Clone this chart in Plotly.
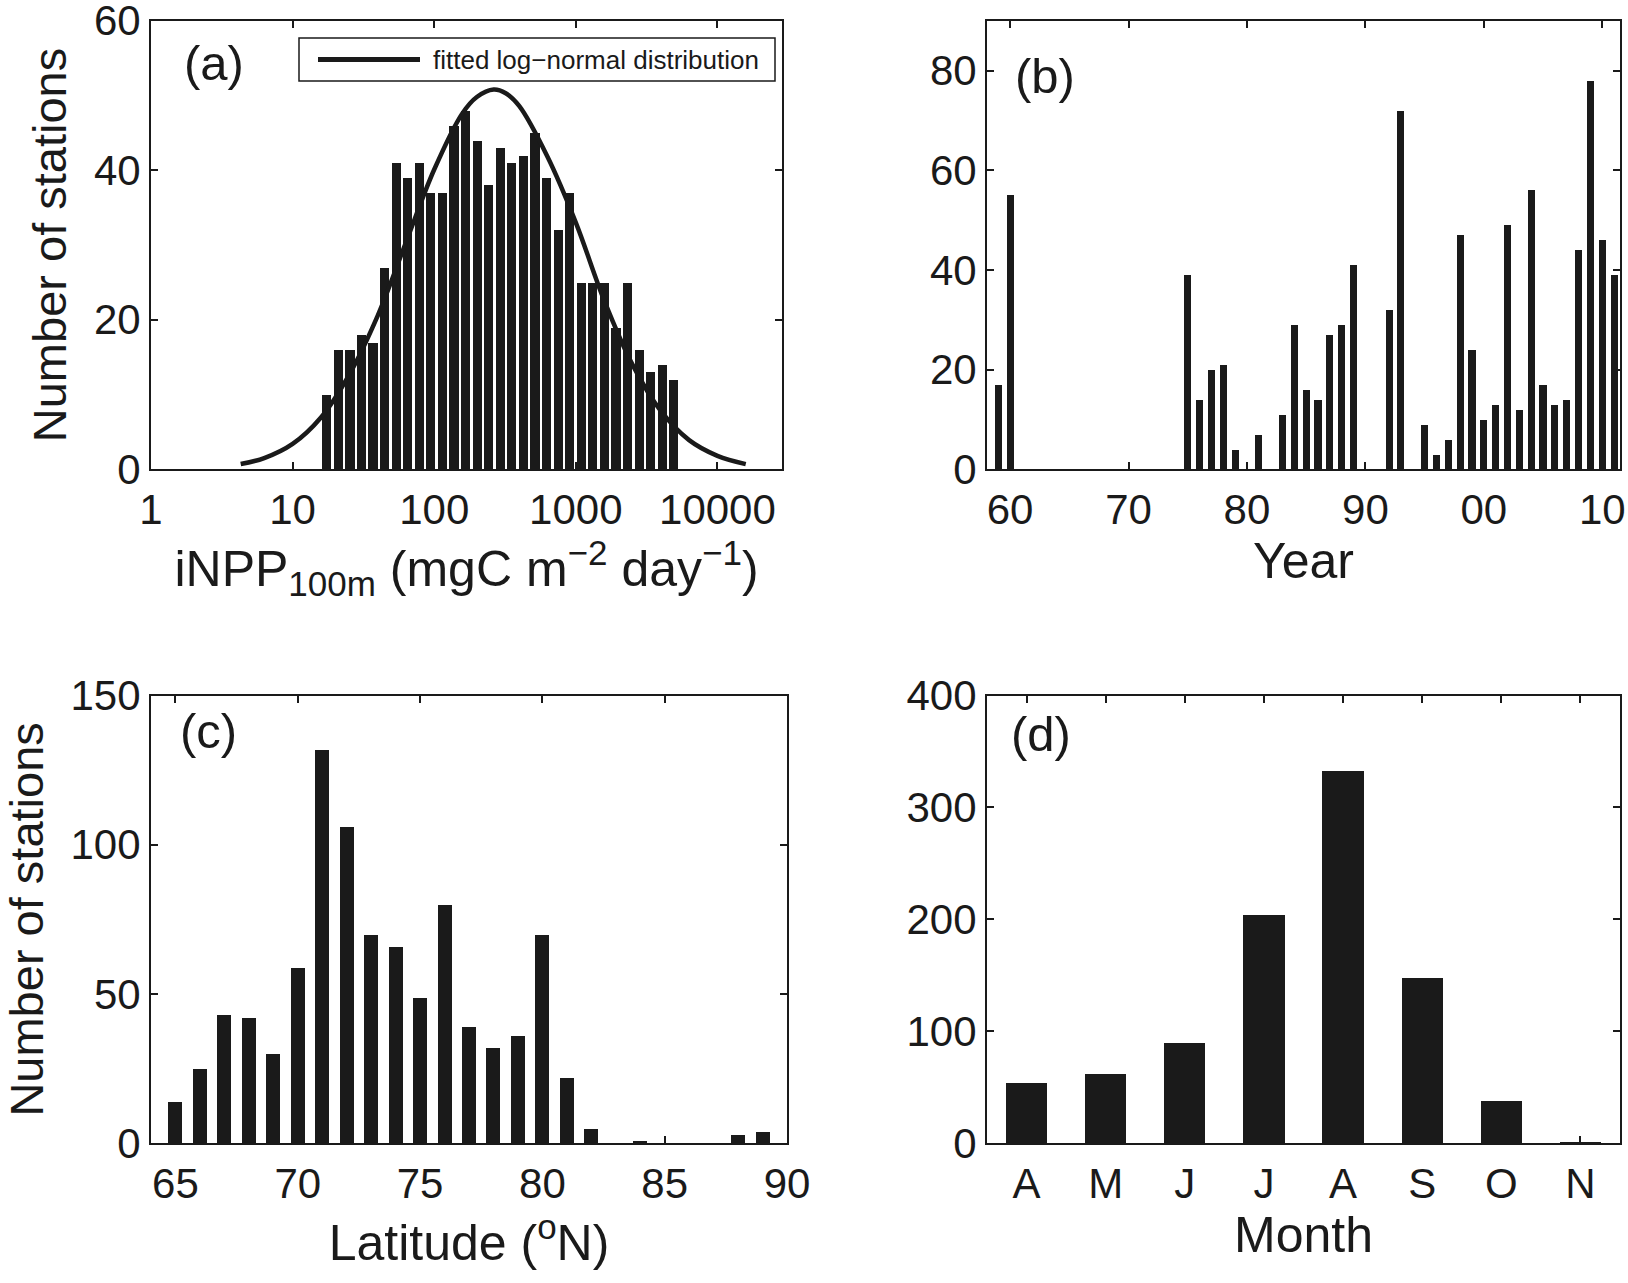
import numpy as np
import plotly.graph_objects as go

# ---- data ----
# (a) histogram of iNPP_100m, bin centres in mgC m-2 day-1 (log-spaced bins)
inpp_bin_centres = [17.4, 21.0, 25.4, 30.6, 37.0, 44.6, 53.9, 65.0, 78.5, 94.7,
                    114.3, 137.9, 166.5, 200.9, 242.6, 292.8, 353.4, 426.6, 514.9, 621.4,
                    749.9, 905.2, 1092.5, 1318.6, 1591.6, 1921.0, 2319.0, 2799.0, 3378.0, 4077.0,
                    4920.0]
inpp_counts = [10, 16, 16, 18, 17, 27, 41, 39, 41, 37,
               37, 46, 48, 44, 38, 43, 41, 42, 45, 39,
               32, 37, 25, 25, 25, 19, 25, 16, 13, 14,
               12]
# fitted log-normal curve
fit_inpp = [4.3, 6.3, 10, 15.8, 25, 40, 63, 100, 158, 200, 263, 320, 398,
            631, 1000, 1585, 2512, 3981, 6310, 10000, 15850]
fit_counts = [0.7, 1.5, 3.4, 6.9, 12.6, 20.6, 30.3, 40.1, 47.6, 49.8, 50.8, 50.3, 48.6,
              41.8, 33.0, 22.6, 14.0, 7.8, 3.9, 1.8, 0.7]
fit_name = 'fitted log\u2212normal distribution'

# (b) stations per year
years = [1959, 1960, 1975, 1976, 1977, 1978, 1979, 1981, 1983, 1984,
         1985, 1986, 1987, 1988, 1989, 1992, 1993, 1995, 1996, 1997,
         1998, 1999, 2000, 2001, 2002, 2003, 2004, 2005, 2006, 2007,
         2008, 2009, 2010, 2011]
year_counts = [17, 55, 39, 14, 20, 21, 4, 7, 11, 29,
               16, 14, 27, 29, 41, 32, 72, 9, 3, 6,
               47, 24, 10, 13, 49, 12, 56, 17, 13, 14,
               44, 78, 46, 39]
year_ticks = [1960, 1970, 1980, 1990, 2000, 2010]
year_labels = ['60', '70', '80', '90', '00', '10']

# (c) stations per degree of latitude
latitudes = [65, 66, 67, 68, 69, 70, 71, 72, 73, 74, 75, 76, 77,
             78, 79, 80, 81, 82, 83, 84, 85, 86, 87, 88, 89]
lat_counts = [14, 25, 43, 42, 30, 59, 132, 106, 70, 66, 49, 80, 39,
              32, 36, 70, 22, 5, 0, 1, 0, 0, 0, 3, 4]

# (d) stations per month
months = ['A', 'M', 'J', 'J', 'A', 'S', 'O', 'N']
month_counts = [54, 62, 90, 204, 333, 148, 38, 1]

# ---- styling ----
W, H = 1628, 1283
INK = '#1a1a1a'
FONT = 'Liberation Sans, Arial, Helvetica, sans-serif'


def px_x(p):
    return p / W


def px_y(p):
    return 1 - p / H


def axis(domain, standoff=0, **kw):
    d = dict(domain=domain, showline=True, linecolor=INK, linewidth=2,
             mirror='ticks', ticks='inside', ticklen=7, tickwidth=1.5,
             tickcolor=INK, showgrid=False, zeroline=False, automargin=False,
             tickfont=dict(size=42, color=INK, family=FONT),
             ticklabelstandoff=standoff, ticklabeloverflow='allow')
    d.update(kw)
    return d


xa = [px_x(151), px_x(782)]
xc = [px_x(151), px_x(787)]
xr = [px_x(987), px_x(1620)]
ytop = [px_y(469.3), px_y(20.7)]
ybot = [px_y(1143.3), px_y(695.5)]

title_font = dict(size=50, color=INK, family=FONT)
ytitle_font = dict(size=47, color=INK, family=FONT)

data = [
    go.Bar(x=np.log10(inpp_bin_centres), y=inpp_counts, width=0.065,
           marker=dict(color=INK, line=dict(width=0)), xaxis='x', yaxis='y',
           showlegend=False),
    go.Scatter(x=np.log10(fit_inpp), y=fit_counts, mode='lines', name=fit_name,
               line=dict(color=INK, width=4.5, shape='spline'),
               xaxis='x', yaxis='y', showlegend=False),
    go.Bar(x=years, y=year_counts, width=0.6,
           marker=dict(color=INK, line=dict(width=0)), xaxis='x2', yaxis='y2',
           showlegend=False),
    go.Bar(x=latitudes, y=lat_counts, width=0.57,
           marker=dict(color=INK, line=dict(width=0)), xaxis='x3', yaxis='y3',
           showlegend=False),
    go.Bar(x=list(range(1, len(months) + 1)), y=month_counts, width=0.52,
           marker=dict(color=INK, line=dict(width=0)), xaxis='x4', yaxis='y4',
           showlegend=False),
]

layout = go.Layout(
    width=W, height=H, margin=dict(l=0, r=0, t=0, b=0),
    paper_bgcolor='white', plot_bgcolor='white', bargap=0,
    font=dict(family=FONT, color=INK),
    xaxis=axis(xa, 2, range=[0, 4.456], tickvals=[0, 1, 2, 3, 4],
               ticktext=['1', '10', '100', '1000', '10000'], anchor='y',
               title=dict(text='iNPP<sub>100m</sub> (mgC m<sup>\u22122</sup> day<sup>\u22121</sup>)',
                          font=title_font, standoff=13)),
    yaxis=axis(ytop, range=[0, 60], tickvals=[0, 20, 40, 60], anchor='x',
               title=dict(text='Number of stations', font=ytitle_font, standoff=12)),
    xaxis2=axis(xr, 2, range=[1958.05, 2011.5], tickvals=year_ticks, ticktext=year_labels,
                anchor='y2', title=dict(text='Year', font=title_font, standoff=2)),
    yaxis2=axis(ytop, range=[0, 90], tickvals=[0, 20, 40, 60, 80], anchor='x2'),
    xaxis3=axis(xc, 2, range=[64, 90], tickvals=[65, 70, 75, 80, 85, 90], anchor='y3',
                title=dict(text='Latitude (<sup>o</sup>N)', font=title_font, standoff=10)),
    yaxis3=axis(ybot, range=[0, 150], tickvals=[0, 50, 100, 150], anchor='x3',
                title=dict(text='Number of stations', font=ytitle_font, standoff=20)),
    xaxis4=axis(xr, 2, range=[0.5, 8.5], tickvals=list(range(1, len(months) + 1)),
                ticktext=months, anchor='y4',
                title=dict(text='Month', font=title_font, standoff=2)),
    yaxis4=axis(ybot, range=[0, 400], tickvals=[0, 100, 200, 300, 400], anchor='x4'),
)

fig = go.Figure(data=data, layout=layout)

# panel letters
for label, x0, y0 in [('(a)', 182, 63), ('(b)', 1013, 76), ('(c)', 178, 731), ('(d)', 1009, 734)]:
    fig.add_annotation(text=label, x=px_x(x0), y=px_y(y0), xref='paper', yref='paper',
                       xanchor='left', yanchor='middle', showarrow=False,
                       font=dict(size=49, color=INK, family=FONT))

# legend box of panel (a), drawn by hand so the line sample is long like the original
fig.add_shape(type='rect', xref='paper', yref='paper',
              x0=px_x(299), x1=px_x(775), y0=px_y(81), y1=px_y(38),
              line=dict(color=INK, width=1.5), fillcolor='white', layer='above')
fig.add_shape(type='line', xref='paper', yref='paper',
              x0=px_x(318), x1=px_x(420), y0=px_y(59.5), y1=px_y(59.5),
              line=dict(color=INK, width=5), layer='above')
fig.add_annotation(text=fit_name, x=px_x(431), y=px_y(59.5), xref='paper', yref='paper',
                   xanchor='left', yanchor='middle', showarrow=False,
                   font=dict(size=26, color=INK, family=FONT))

# the page's default body margin would shift the figure by 8 px
fig.write_html('out.html', config={'displayModeBar': False},
               post_script="document.body.style.margin='0';")
